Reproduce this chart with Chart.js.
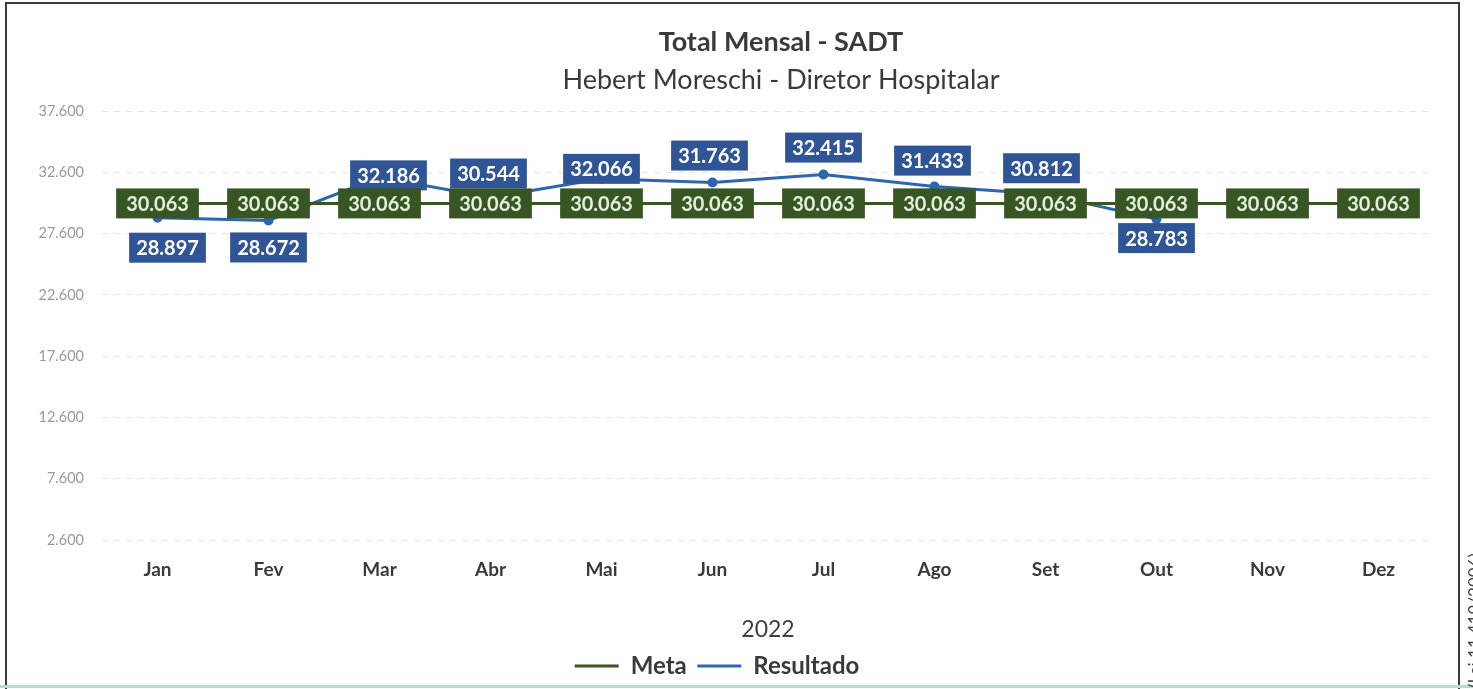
<!DOCTYPE html>
<html>
<head>
<meta charset="utf-8">
<script src="https://cdn.jsdelivr.net/npm/chart.js@4/dist/chart.umd.min.js"></script>
<style>
  body { margin: 0; width: 1473px; height: 689px; overflow: hidden; background: #fff; position: relative; font-family: Lato, "Open Sans", sans-serif; }
  #frame { position: absolute; left: 5px; top: 2px; width: 1455px; height: 720px; border: 2px solid #3a3a3a; box-sizing: border-box; }
  #teal { position: absolute; left: 0; top: 685px; width: 1473px; height: 3px; background: #a3e6d8; }
  #chart { position: absolute; left: 0; top: 0; }
  #side { position: absolute; left: 1464px; top: 688px; transform: rotate(-90deg); transform-origin: left top; font-size: 17px; color: #444; white-space: nowrap; }
</style>
</head>
<body>
<div id="frame"></div>
<canvas id="chart" width="1473" height="689"></canvas>
<div id="teal"></div>
<div id="side">(Lei 11.419/2006)</div>
<script>
const months = ['Jan', 'Fev', 'Mar', 'Abr', 'Mai', 'Jun', 'Jul', 'Ago', 'Set', 'Out', 'Nov', 'Dez'];
const metaValues = [30063, 30063, 30063, 30063, 30063, 30063, 30063, 30063, 30063, 30063, 30063, 30063];
const resultadoValues = [28897, 28672, 32186, 30544, 32066, 31763, 32415, 31433, 30812, 28783, null, null];
const yMin = 2600;
const yMax = 37600;
const yStep = 5000;

// where the blue labels sit, relative to their point (px)
const resultadoLabelShift = [[10, 30], [0, 27], [9, -2], [-2, -24], [0, -10], [-3, -27], [0, -27], [-2, -26], [-4, -26], [0, 19], [0, 0], [0, 0]];

const green = '#375623';
const blue = '#2C66B0';
const blueBox = '#2F5597';
const font = 'Lato, "Open Sans", sans-serif';

function fmt(v) {
    return String(v).replace(/\B(?=(\d{3})+(?!\d))/g, '.');
}

const headerPlugin = {
    id: 'header',
    afterDraw(chart) {
        const c = chart.ctx;
        const x = (chart.chartArea.left + chart.chartArea.right) / 2 + 13;
        c.save();
        c.textAlign = 'center';
        c.textBaseline = 'middle';
        c.fillStyle = '#3a3a3a';
        c.font = 'bold 27px ' + font;
        c.fillText('Total Mensal - SADT', x, 42);
        c.font = '27px ' + font;
        c.fillText('Hebert Moreschi - Diretor Hospitalar', x, 80);
        c.restore();
    }
};

const labelPlugin = {
    id: 'valueBoxes',
    afterDatasetsDraw(chart) {
        const c = chart.ctx;
        c.save();
        c.font = 'bold 20px ' + font;
        c.textAlign = 'center';
        c.textBaseline = 'middle';
        // blue first, green goes on top
        [1, 0].forEach(function (di) {
            const meta = chart.getDatasetMeta(di);
            const values = chart.data.datasets[di].data;
            meta.data.forEach(function (pt, i) {
                if (values[i] === null) return;
                const txt = fmt(values[i]);
                const shift = di === 1 ? resultadoLabelShift[i] : [0, 0];
                const x = pt.x + shift[0];
                const y = pt.y + shift[1];
                const w = c.measureText(txt).width + (di === 1 ? 14 : 20);
                const h = 30;
                c.fillStyle = di === 1 ? blueBox : green;
                c.fillRect(x - w / 2, y - h / 2, w, h);
                c.fillStyle = di === 1 ? '#ffffff' : '#E2EFDA';
                c.fillText(txt, x, y + 1);
            });
        });
        c.restore();
    }
};

new Chart(document.getElementById('chart'), {
    type: 'line',
    data: {
        labels: months,
        datasets: [{
            label: 'Meta',
            data: metaValues,
            borderColor: green,
            backgroundColor: green,
            borderWidth: 3,
            pointRadius: 0,
            pointBorderColor: green,
            pointBorderWidth: 3
        }, {
            label: 'Resultado',
            data: resultadoValues,
            borderColor: blue,
            backgroundColor: blue,
            borderWidth: 3,
            pointRadius: 3.5,
            pointBackgroundColor: blue,
            pointBorderColor: blue,
            pointBorderWidth: 3
        }]
    },
    options: {
        responsive: false,
        animation: false,
        layout: { padding: { top: 111, right: 39, left: 0, bottom: 1 } },
        plugins: {
            legend: {
                position: 'bottom',
                labels: {
                    usePointStyle: true,
                    pointStyle: 'line',
                    pointStyleWidth: 44,
                    padding: 10.5,
                    color: '#3a3a3a',
                    font: { family: font, size: 24, weight: 'bold' }
                }
            },
            title: { display: false },
            tooltip: { enabled: false }
        },
        scales: {
            x: {
                offset: true,
                grid: { display: false, drawTicks: false },
                border: { display: false },
                ticks: { padding: 18, color: '#3a3a3a', font: { family: font, size: 19, weight: 'bold' } },
                title: { display: true, text: '2022', color: '#404040', padding: { top: 17, bottom: 0 }, font: { family: font, size: 23 } }
            },
            y: {
                min: yMin,
                max: yMax,
                afterFit(scale) { scale.width = 102; },
                grid: { color: '#e4e4e4', drawTicks: false },
                border: { display: false, dash: [6, 6] },
                ticks: {
                    stepSize: yStep,
                    padding: 18,
                    color: '#999999',
                    font: { family: font, size: 14.5 },
                    callback: function (v) { return fmt(v); }
                }
            }
        }
    },
    plugins: [labelPlugin, headerPlugin]
});
</script>
</body>
</html>
